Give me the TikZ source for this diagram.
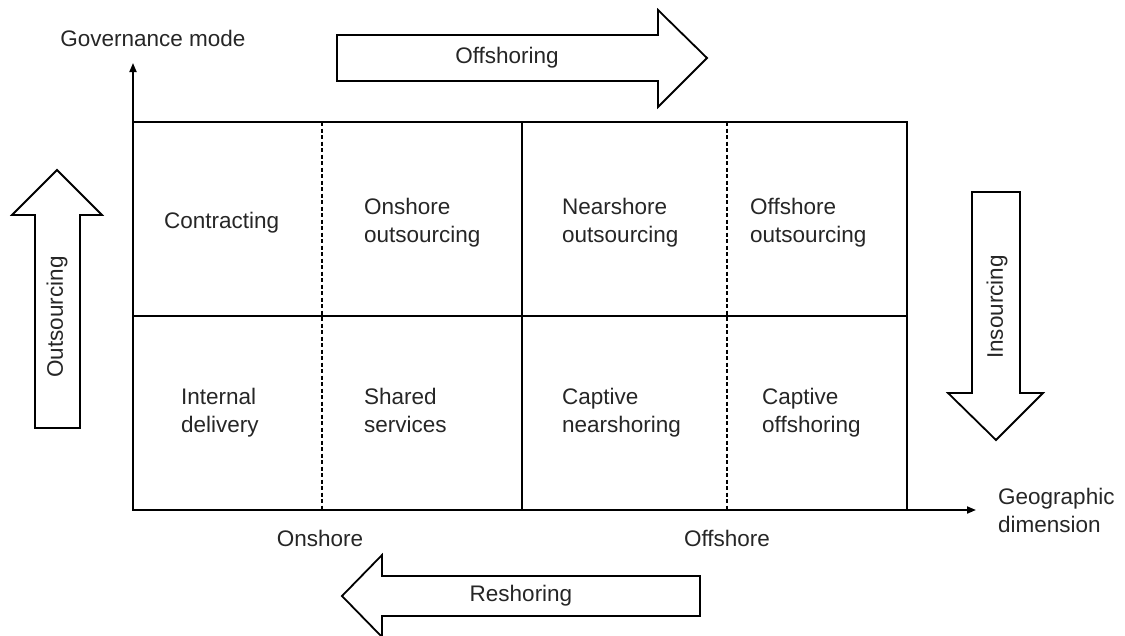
\documentclass[tikz,border=0pt]{standalone}
\usepackage{fontspec}
\setmainfont{Liberation Sans}
\usetikzlibrary{arrows.meta}
\begin{document}
\begin{tikzpicture}[x=1pt,y=-1pt,
  txt/.style={font=\fontsize{22.5}{28}\selectfont, inner sep=0pt, align=left, text=black!85},
  cell/.style={txt, anchor=north west},
  blk/.style={draw=black, line width=1.8pt, fill=white, line join=miter},
  axis/.style={line width=1.8pt, -{Triangle[length=9pt,width=7pt]}},
  grid/.style={line width=1.8pt},
  dgrid/.style={line width=1.5pt, dash pattern=on 4pt off 2.5pt}]
\useasboundingbox (0,0) rectangle (1125,635);
% axes
\coordinate (O) at (133,510);
\coordinate (ytop) at (133,63);
\coordinate (xend) at (976,510);
\draw[axis] (O) -- (ytop);
\draw[axis] (O) -- (xend);
% grid
\coordinate (TL) at (133,122);
\coordinate (BR) at (907,510);
\draw[grid] (TL) rectangle (BR);
\coordinate (ML) at (133,316);
\coordinate (MR) at (907,316);
\draw[grid] (ML) -- (MR);
\coordinate (Ct) at (522,122);
\coordinate (Cb) at (522,510);
\draw[grid] (Ct) -- (Cb);
\coordinate (D1t) at (322,122);
\coordinate (D1b) at (322,510);
\draw[dgrid] (D1t) -- (D1b);
\coordinate (D2t) at (727,122);
\coordinate (D2b) at (727,510);
\draw[dgrid] (D2t) -- (D2b);
% axis labels
\node[txt] (gov) at (153,38) {Governance mode};
\node[txt, anchor=west] (geo) at (998,510) {Geographic\\dimension};
\node[txt] (onshore) at (320,538) {Onshore};
\node[txt] (offshore) at (727,538) {Offshore};
% cells
\node[cell] (c11) at (164,212) {Contracting};
\node[cell] (c12) at (364,198) {Onshore\\outsourcing};
\node[cell] (c13) at (562,198) {Nearshore\\outsourcing};
\node[cell] (c14) at (750,198) {Offshore\\outsourcing};
\node[cell] (c21) at (181,388) {Internal\\delivery};
\node[cell] (c22) at (364,388) {Shared\\services};
\node[cell] (c23) at (562,388) {Captive\\nearshoring};
\node[cell] (c24) at (762,388) {Captive\\offshoring};
% block arrows
\draw[blk] (337,35) -- (658,35) -- (658,10) -- (707,58) -- (658,107) -- (658,81) -- (337,81) -- cycle;
\node[txt] (offsh) at (507,58) {Offshoring};
\draw[blk] (35,428) -- (35,215) -- (12,215) -- (57,170) -- (102,215) -- (80,215) -- (80,428) -- cycle;
\node[txt, rotate=90] (outs) at (57,317) {Outsourcing};
\draw[blk] (972,192) -- (1020,192) -- (1020,393) -- (1043,393) -- (996,440) -- (948,393) -- (972,393) -- cycle;
\node[txt, rotate=90] (ins) at (997,307) {Insourcing};
\draw[blk] (700,576) -- (382,576) -- (382,555) -- (342,596) -- (382,637) -- (382,616) -- (700,616) -- cycle;
\node[txt] (resh) at (521,596) {Reshoring};
\end{tikzpicture}
\end{document}
